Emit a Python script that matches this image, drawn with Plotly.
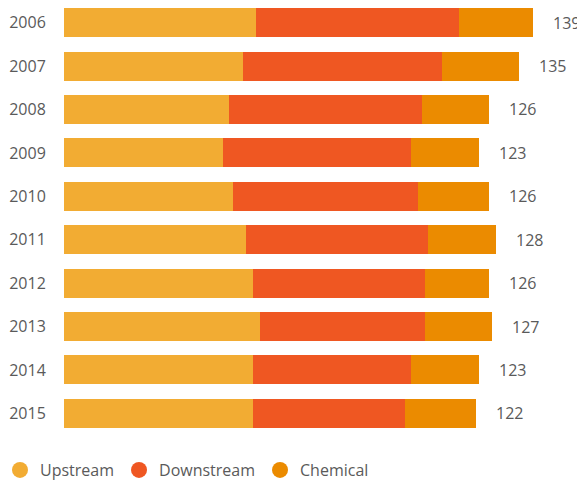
import plotly.graph_objects as go

years = ["2006", "2007", "2008", "2009", "2010", "2011", "2012", "2013", "2014", "2015"]
upstream = [57, 53, 49, 47, 50, 54, 56, 58, 56, 56]
downstream = [60, 59, 57, 56, 55, 54, 51, 49, 47, 45]
chemical = [22, 23, 20, 20, 21, 20, 19, 20, 20, 21]
totals = [139, 135, 126, 123, 126, 128, 126, 127, 123, 122]

series = [
    ("Upstream", upstream, "#F2AC33"),
    ("Downstream", downstream, "#EF5722"),
    ("Chemical", chemical, "#EB8B00"),
]

FONT = "Open Sans"
GREY = "#5a5a5a"
W, H = 577, 481

fig = go.Figure()
for name, vals, col in series:
    fig.add_trace(go.Bar(
        y=years, x=vals, orientation="h", name=name,
        marker=dict(color=col, line=dict(width=0)),
        showlegend=False,
    ))
for name, vals, col in series:
    fig.add_trace(go.Scatter(
        x=[None], y=[None], mode="markers", name=name,
        marker=dict(color=col, size=16, symbol="circle"),
        showlegend=True, xaxis="x2", yaxis="y2",
    ))

for i, tot in enumerate(totals):
    fig.add_annotation(
        x=tot, y=i, xref="x", yref="y", text=str(tot), showarrow=False,
        xanchor="left", yanchor="middle", xshift=18,
        font=dict(family=FONT, size=16, color=GREY),
    )

fig.update_layout(
    width=W, height=H,
    barmode="stack", bargap=0.33,
    paper_bgcolor="white", plot_bgcolor="white",
    margin=dict(l=0, r=0, t=0, b=0, autoexpand=False),
    font=dict(family=FONT, size=16, color=GREY),
    xaxis=dict(range=[0, 150], visible=False, domain=[64 / W, 570 / W]),
    yaxis=dict(
        type="category", categoryorder="array", categoryarray=years,
        range=[len(years) - 0.5, -0.5], automargin=False,
        domain=[46 / H, 480 / H],
        showgrid=False, zeroline=False, showline=False,
        ticks="outside", ticklen=14, tickcolor="rgba(0,0,0,0)",
        tickfont=dict(family=FONT, size=16, color=GREY),
    ),
    xaxis2=dict(visible=False, overlaying="x", range=[0, 1]),
    yaxis2=dict(visible=False, overlaying="y", range=[0, 1]),
    legend=dict(
        orientation="h", x=0, xanchor="left", y=1 - 470 / H, yanchor="middle",
        font=dict(family=FONT, size=16, color=GREY),
        traceorder="normal",
    ),
    showlegend=True,
)

fig.write_html(
    "out.html",
    config={"displayModeBar": False},
    post_script="document.body.style.margin='0';document.body.style.padding='0';",
)
